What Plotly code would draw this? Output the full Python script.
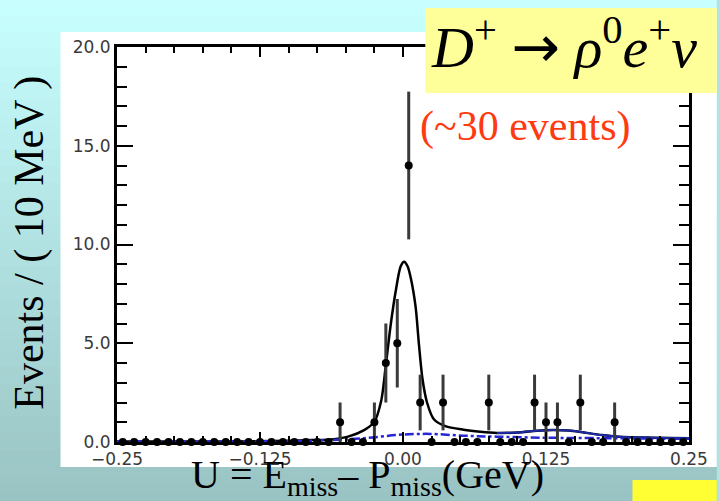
import plotly.graph_objects as go

# ---------------- data ----------------
bin_centers = [-0.245, -0.235, -0.225, -0.215, -0.205, -0.195, -0.185, -0.175, -0.165, -0.155,
               -0.145, -0.135, -0.125, -0.115, -0.105, -0.095, -0.085, -0.075, -0.065, -0.055,
               -0.045, -0.035, -0.025, -0.015, -0.005, 0.005, 0.015, 0.025, 0.035, 0.045,
               0.055, 0.065, 0.075, 0.085, 0.095, 0.105, 0.115, 0.125, 0.135, 0.145,
               0.155, 0.165, 0.175, 0.185, 0.195, 0.205, 0.215, 0.225, 0.235, 0.245]
counts = [0, 0, 0, 0, 0, 0, 0, 0, 0, 0,
          0, 0, 0, 0, 0, 0, 0, 0, 0, 1,
          0, 0, 1, 4, 5, 14, 2, 0, 2, 0,
          0, 0, 2, 0, 0, 0, 2, 1, 1, 0,
          2, 0, 0, 1, 0, 0, 0, 0, 0, 0]
errors = [0, 0, 0, 0, 0, 0, 0, 0, 0, 0,
          0, 0, 0, 0, 0, 0, 0, 0, 0, 1.0,
          0, 0, 1.0, 2.0, 2.24, 3.74, 1.41, 0, 1.41, 0,
          0, 0, 1.41, 0, 0, 0, 1.41, 1.0, 1.0, 0,
          1.41, 0, 0, 1.0, 0, 0, 0, 0, 0, 0]

# total fit curve (black)
fit_x = [-0.25, -0.15, -0.10, -0.08, -0.063, -0.048, -0.034, -0.025, -0.019, -0.015,
         -0.0106, -0.0062, -0.002, 0.001, 0.004, 0.0068, 0.011, 0.014, 0.017, 0.021,
         0.027, 0.037, 0.053, 0.0675, 0.082, 0.10, 0.117, 0.131, 0.145, 0.154,
         0.174, 0.189, 0.218, 0.25]
fit_y = [0.02, 0.03, 0.06, 0.10, 0.13, 0.27, 0.60, 1.03, 2.1, 3.9,
         6.0, 7.7, 8.9, 9.13, 8.9, 8.3, 6.85, 4.9, 3.2, 2.0,
         1.15, 0.80, 0.62, 0.52, 0.46, 0.48, 0.57, 0.61, 0.58, 0.52,
         0.35, 0.27, 0.22, 0.19]

# background component (blue solid, right part)
bkg_x = [0.082, 0.10, 0.117, 0.131, 0.145, 0.154, 0.174, 0.189, 0.218, 0.25]
bkg_y = [0.46, 0.48, 0.57, 0.61, 0.58, 0.52, 0.35, 0.27, 0.22, 0.19]

# background component (blue dash-dot)
dd_x = [-0.25, -0.15, -0.0915, -0.063, -0.034, -0.005, 0.01, 0.024, 0.053, 0.082,
        0.12, 0.16, 0.20, 0.25]
dd_y = [0.02, 0.03, 0.05, 0.10, 0.19, 0.36, 0.40, 0.41, 0.32, 0.27,
        0.22, 0.20, 0.18, 0.16]

x_tickvals = [-0.25, -0.125, 0.0, 0.125, 0.25]
x_ticktext = ["\u22120.25", "\u22120.125", "0.00", "0.125", "0.25"]
y_tickvals = [0, 5, 10, 15, 20]
y_ticktext = ["0.0", "5.0", "10.0", "15.0", "20.0"]

# ---------------- layout geometry ----------------
W, H = 720, 501
L, R, T, B = 117, 26, 47, 59
PW, PH = W - L - R, H - T - B


def px_x(p):
    return (p - L) / PW


def px_y(p):
    return (H - B - p) / PH


fig = go.Figure()

fig.add_trace(go.Scatter(x=fit_x, y=fit_y, mode="lines",
                         line=dict(color="black", width=2.5, shape="spline", smoothing=0.8),
                         hoverinfo="skip", showlegend=False))
fig.add_trace(go.Scatter(x=dd_x, y=dd_y, mode="lines",
                         line=dict(color="#2626d6", width=2.5, dash="dashdot", shape="spline"),
                         hoverinfo="skip", showlegend=False))
fig.add_trace(go.Scatter(x=bkg_x, y=bkg_y, mode="lines",
                         line=dict(color="#1c2aa8", width=2, shape="spline"),
                         hoverinfo="skip", showlegend=False))
fig.add_trace(go.Scatter(x=bin_centers, y=counts, mode="markers",
                         marker=dict(color="black", size=8),
                         error_y=dict(type="data", array=errors, visible=True,
                                      color="#3a3a3a", thickness=3, width=0),
                         cliponaxis=False, showlegend=False))

# background gradient stripes
shapes = []
N = 60
top = (200, 255, 255)
bot = (154, 195, 195)
for i in range(N):
    f = (i + 0.5) / N
    c = tuple(round(top[k] + (bot[k] - top[k]) * f) for k in range(3))
    y0 = H * i / N - 1
    y1 = H * (i + 1) / N + 1
    shapes.append(dict(type="rect", xref="paper", yref="paper",
                       x0=px_x(-2), x1=px_x(W + 2), y0=px_y(y1), y1=px_y(y0),
                       fillcolor="rgb(%d,%d,%d)" % c, line=dict(width=0), layer="below"))
# white panel
shapes.append(dict(type="rect", xref="paper", yref="paper",
                   x0=px_x(60), x1=px_x(W + 2), y0=px_y(467), y1=px_y(32),
                   fillcolor="white", line=dict(width=0), layer="below"))
# yellow title box
shapes.append(dict(type="rect", xref="paper", yref="paper",
                   x0=px_x(428), x1=px_x(W + 2), y0=px_y(93), y1=px_y(8),
                   fillcolor="#ffff99", line=dict(width=0), layer="above"))
# bright yellow box bottom right
shapes.append(dict(type="rect", xref="paper", yref="paper",
                   x0=px_x(637), x1=px_x(W + 2), y0=px_y(H + 2), y1=px_y(480),
                   fillcolor="#ffff33", line=dict(width=0), layer="above"))

annotations = [
    dict(text="<i>D</i><sup>+</sup> <span style='font-family:DejaVu Sans'>\u2192</span> "
              "<i>\u03c1</i><sup>0</sup><i>e</i><sup>+</sup><i>\u03bd</i>",
         xref="paper", yref="paper", x=px_x(432), y=px_y(44), xanchor="left", yanchor="middle",
         showarrow=False, font=dict(family="Liberation Serif", size=58, color="black")),
    dict(text="(~30 events)", xref="paper", yref="paper", x=px_x(421), y=px_y(127),
         xanchor="left", yanchor="middle", showarrow=False,
         font=dict(family="Liberation Serif", size=42, color="#ff3a10")),
    dict(text="U = E<sub>miss</sub>\u2013 P<sub>miss</sub>(GeV)", xref="paper", yref="paper",
         x=px_x(190), y=px_y(450), xanchor="left", yanchor="top", showarrow=False,
         font=dict(family="Liberation Serif", size=40, color="black")),
    dict(text="Events / ( 10 MeV )", xref="paper", yref="paper", x=px_x(28), y=px_y(243),
         xanchor="center", yanchor="middle", textangle=-90, showarrow=False,
         font=dict(family="Liberation Serif", size=42, color="black")),
]

tickfont = dict(family="DejaVu Sans", size=17, color="#3a3a3a")

fig.update_layout(
    width=W, height=H, autosize=False,
    margin=dict(l=L, r=R, t=T, b=B, pad=0),
    paper_bgcolor="rgb(178,226,226)", plot_bgcolor="white",
    shapes=shapes, annotations=annotations, showlegend=False,
    xaxis=dict(range=[-0.25, 0.25], showgrid=False, zeroline=False,
               showline=True, linecolor="black", linewidth=3, mirror="ticks",
               ticks="inside", ticklen=10, tickwidth=2, tickcolor="black",
               tickvals=x_tickvals, ticktext=x_ticktext, tickfont=tickfont,
               minor=dict(tick0=-0.25, dtick=0.025, ticks="inside", ticklen=6,
                          tickwidth=2, tickcolor="black", showgrid=False)),
    yaxis=dict(range=[0, 20], showgrid=False, zeroline=False,
               showline=True, linecolor="black", linewidth=3, mirror="ticks",
               ticks="inside", ticklen=16, tickwidth=2, tickcolor="black",
               tickvals=y_tickvals, ticktext=y_ticktext, tickfont=tickfont,
               minor=dict(tick0=0, dtick=1, ticks="inside", ticklen=10,
                          tickwidth=2, tickcolor="black", showgrid=False)),
)

fig.write_html("out.html", config={"displayModeBar": False},
               post_script="document.body.style.margin='0px';document.body.style.overflow='hidden';")
